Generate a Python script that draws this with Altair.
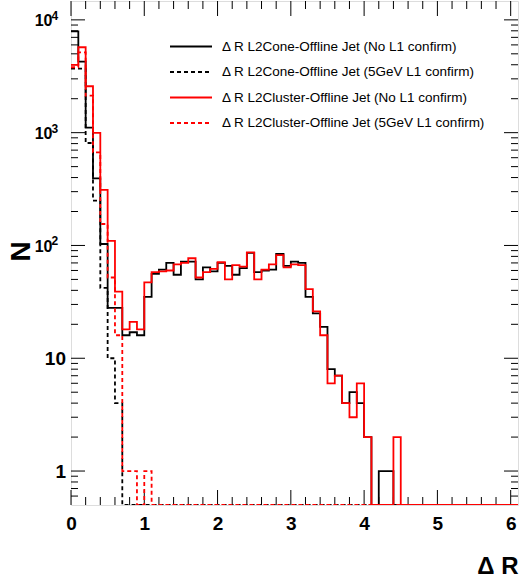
import altair as alt
import pandas as pd

# ---- data: counts per 0.1-wide bin of Delta R, bins from 0.0 to 6.1 ----
bin_edges = [round(0.1 * i, 1) for i in range(62)]

cone_no_l1 = [7900, 4270, 1110, 394, 103, 28, 28, 16, 17, 16,
              35, 56, 61, 70, 55, 72, 72, 50, 64, 59,
              70, 66, 55, 63, 86, 58, 60, 61, 84, 66,
              72, 70, 35, 25, 19, 8, 7, 4, 5, 4,
              2, 0, 1, 1, 0, 0, 0, 0, 0, 0,
              0, 0, 0, 0, 0, 0, 0, 0, 0, 0, 0]
cone_5gev = [3700, 3700, 810, 250, 42, 10, 4, 0, 0, 0,
             0, 0, 0, 0, 0, 0, 0, 0, 0, 0,
             0, 0, 0, 0, 0, 0, 0, 0, 0, 0,
             0, 0, 0, 0, 0, 0, 0, 0, 0, 0,
             0, 0, 0, 0, 0, 0, 0, 0, 0, 0,
             0, 0, 0, 0, 0, 0, 0, 0, 0, 0, 0]
cluster_no_l1 = [3990, 5720, 2580, 996, 311, 110, 39, 18, 21, 18,
                 47, 58, 59, 60, 68, 70, 77, 52, 58, 62,
                 71, 50, 67, 65, 87, 50, 61, 68, 82, 64,
                 68, 67, 41, 26, 16, 6, 7, 4, 3, 6,
                 2, 0, 0, 0, 2, 0, 0, 0, 0, 0,
                 0, 0, 0, 0, 0, 0, 0, 0, 0, 0, 0]
cluster_5gev = [3800, 5160, 2130, 670, 155, 52, 16, 1, 1, 0,
                1, 0, 0, 0, 0, 0, 0, 0, 0, 0,
                0, 0, 0, 0, 0, 0, 0, 0, 0, 0,
                0, 0, 0, 0, 0, 0, 0, 0, 0, 0,
                0, 0, 0, 0, 0, 0, 0, 0, 0, 0,
                0, 0, 0, 0, 0, 0, 0, 0, 0, 0, 0]

series_names = [
    "\u0394 R L2Cone-Offline Jet (No L1 confirm)",
    "\u0394 R L2Cone-Offline Jet (5GeV L1 confirm)",
    "\u0394 R L2Cluster-Offline Jet (No L1 confirm)",
    "\u0394 R L2Cluster-Offline Jet (5GeV L1 confirm)",
]
series_counts = [cone_no_l1, cone_5gev, cluster_no_l1, cluster_5gev]
series_colors = ["black", "black", "#ff0000", "#ff0000"]
series_dash = [[1, 0], [4, 3], [1, 0], [4, 3]]

# y tick labels: plain ones and power-of-ten ones (base + exponent)
y_plain_vals = [1, 10]
y_plain_text = ["1", "10"]
y_pow_vals = [100, 1000, 10000]
y_pow_exp = ["2", "3", "4"]

y_major = [1, 10, 100, 1000, 10000]
y_minor = [0.6, 0.7, 0.8, 0.9, 2, 3, 4, 5, 6, 7, 8, 9,
           20, 30, 40, 50, 60, 70, 80, 90,
           200, 300, 400, 500, 600, 700, 800, 900,
           2000, 3000, 4000, 5000, 6000, 7000, 8000, 9000]
x_major = [0, 1, 2, 3, 4, 5, 6]
x_minor = [0.2, 0.4, 0.6, 0.8, 1.2, 1.4, 1.6, 1.8, 2.2, 2.4, 2.6, 2.8,
           3.2, 3.4, 3.6, 3.8, 4.2, 4.4, 4.6, 4.8, 5.2, 5.4, 5.6, 5.8]

Y_MIN, Y_MAX = 0.5, 14700
X_MIN, X_MAX = 0.0, 6.1

# ---- build step-line table ----
rows = []
for name, counts in zip(series_names, series_counts):
    for i, c in enumerate(counts):
        rows.append({"series": name, "x": bin_edges[i], "y": max(c, Y_MIN)})
    rows.append({"series": name, "x": bin_edges[len(counts)], "y": max(counts[-1], Y_MIN)})
df = pd.DataFrame(rows)

W, H = 447, 504
FONT = "Liberation Sans"

xscale = alt.Scale(domain=[X_MIN, X_MAX], nice=False, zero=False)
yscale = alt.Scale(type="log", domain=[Y_MIN, Y_MAX], nice=False)
cscale = alt.Scale(domain=series_names, range=series_colors)
dscale = alt.Scale(domain=series_names, range=series_dash)

xaxis = alt.Axis(values=x_major, format="d", ticks=False, domain=False, grid=False,
                 labelFont=FONT, labelFontWeight="bold", labelFontSize=19,
                 labelPadding=9, labelColor="black", labelFlush=False,
                 title="\u0394 R", titleFont=FONT, titleFontWeight="bold",
                 titleFontSize=24, titleColor="black", titleX=W, titleY=68,
                 titleAlign="right", titleBaseline="alphabetic")
yaxis = alt.Axis(values=y_major, ticks=False, domain=False, grid=False, labels=False,
                 title="N", titleFont=FONT, titleFontWeight="bold", titleFontSize=28,
                 titleColor="black", titleX=-50, titleY=250, titleAngle=270,
                 titleAlign="center", titleBaseline="middle")

legend = alt.Legend(title=None, orient="none", legendX=98, legendY=39,
                    symbolType="stroke", symbolSize=1764, symbolStrokeWidth=1.8,
                    labelFont=FONT, labelFontSize=13.5, labelOffset=9,
                    labelColor="black", rowPadding=11.5, clipHeight=13, labelLimit=400)

base = alt.Chart(df)

def hist_layer(name):
    return base.transform_filter(alt.datum.series == name).mark_line(
        interpolate="step-after", strokeWidth=1.8, clip=True
    ).encode(
        x=alt.X("x:Q", scale=xscale, axis=xaxis),
        y=alt.Y("y:Q", scale=yscale, axis=yaxis),
        color=alt.Color("series:N", scale=cscale, legend=legend),
        strokeDash=alt.StrokeDash("series:N", scale=dscale, legend=legend),
    )

# drawing order: black solid, black dashed, red dashed, red solid
hist_layers = [hist_layer(series_names[i]) for i in (0, 1, 3, 2)]

def ytick_layer(vals, x0, x1):
    return alt.Chart(pd.DataFrame({"y": vals})).mark_rule(color="black", strokeWidth=1).encode(
        y=alt.Y("y:Q", scale=yscale), x=alt.value(x0), x2=alt.value(x1))

def xtick_layer(vals, y0, y1):
    return alt.Chart(pd.DataFrame({"x": vals})).mark_rule(color="black", strokeWidth=1).encode(
        x=alt.X("x:Q", scale=xscale), y=alt.value(y0), y2=alt.value(y1))

tick_layers = [
    ytick_layer(y_major, 0, 14), ytick_layer(y_minor, 0, 7),
    ytick_layer(y_major, W, W - 14), ytick_layer(y_minor, W, W - 7),
    xtick_layer(x_major, H, H - 15), xtick_layer(x_minor, H, H - 8),
    xtick_layer(x_major, 0, 15), xtick_layer(x_minor, 0, 8),
]

# y tick labels as text through the y scale
plain_df = pd.DataFrame({"y": y_plain_vals, "t": y_plain_text})
pow_df = pd.DataFrame({"y": y_pow_vals, "e": y_pow_exp})
label_plain = alt.Chart(plain_df).mark_text(
    align="right", baseline="middle", font=FONT, fontWeight="bold", fontSize=19,
    color="black", dy=1).encode(y=alt.Y("y:Q", scale=yscale), x=alt.value(-5), text="t:N")
label_base = alt.Chart(pow_df).mark_text(
    align="right", baseline="middle", font=FONT, fontWeight="bold", fontSize=16,
    color="black", dy=1.5).encode(y=alt.Y("y:Q", scale=yscale), x=alt.value(-18.5),
                                  text=alt.value("10"))
label_exp = alt.Chart(pow_df).mark_text(
    align="left", baseline="middle", font=FONT, fontWeight="bold", fontSize=12,
    color="black", dy=-4).encode(y=alt.Y("y:Q", scale=yscale), x=alt.value(-19.5),
                                 text="e:N")

chart = alt.layer(*tick_layers, label_plain, label_base, label_exp, *hist_layers).properties(
    width=W, height=H,
    padding={"left": 71, "top": 1, "right": 3, "bottom": 75},
    autosize="none",
).configure_view(stroke="black", strokeWidth=1.2).configure(background="white")

chart.save("out.html", embed_options={"renderer": "svg", "actions": False})
